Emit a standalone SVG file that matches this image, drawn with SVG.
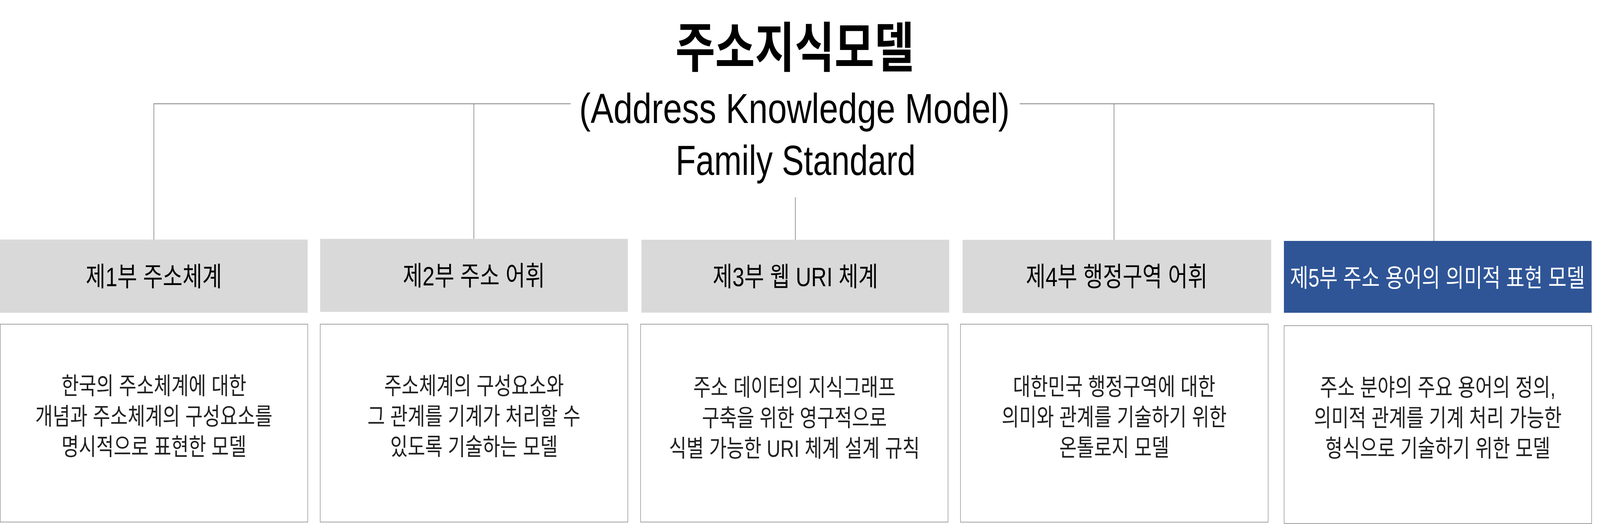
<svg xmlns="http://www.w3.org/2000/svg" width="5148" height="1342" viewBox="0 0 5148 1342" preserveAspectRatio="none" style="width:100vw;height:100vh;display:block">
  <style>
    text { font-family: "Liberation Sans", "Noto Sans CJK KR", sans-serif; text-anchor: middle; }
    .title { font-size: 138px; font-weight: 700; fill: #000; }
    .sub { font-size: 108px; fill: #000; }
    .part { fill: #d9d9d9; }
    .part-hl { fill: #2f5597; }
    .plabel { font-size: 69px; fill: #000; }
    .plabel-hl { font-size: 64px; fill: #fff; }
    .desc-box { fill: #fff; stroke: #7f7f7f; stroke-width: 1.5; }
    .desc { font-size: 61px; fill: #222; }
    .conn { stroke: #7f7f7f; stroke-width: 2; fill: none; }
  </style>
  <rect width="5148" height="1342" fill="#fff"/>

  <g id="connectors">
    <line class="conn" x1="495" y1="265.7" x2="1836" y2="265.7"/>
    <line class="conn" x1="3281" y1="265.7" x2="4613.5" y2="265.7"/>
    <line class="conn" x1="495" y1="264.7" x2="495" y2="614"/>
    <line class="conn" x1="1524.7" y1="265.7" x2="1524.7" y2="612"/>
    <line class="conn" x1="2559" y1="505" x2="2559" y2="614"/>
    <line class="conn" x1="3584.3" y1="265.7" x2="3584.3" y2="614"/>
    <line class="conn" x1="4613.5" y1="264.7" x2="4613.5" y2="617"/>
  </g>

  <g id="root">
    <text class="title" x="2557" y="171" textLength="768" lengthAdjust="spacingAndGlyphs">주소지식모델</text>
    <text class="sub" x="2556" y="315" textLength="1385" lengthAdjust="spacingAndGlyphs">(Address Knowledge Model)</text>
    <text class="sub" x="2560" y="448" textLength="772" lengthAdjust="spacingAndGlyphs">Family Standard</text>
  </g>

  <g id="part1">
    <rect class="part" x="0" y="613.5" width="990" height="187.5"/>
    <text class="plabel" x="495" y="733">제1부 주소체계</text>
  </g>
  <g id="part2">
    <rect class="part" x="1030" y="611.7" width="990" height="187"/>
    <text class="plabel" x="1525" y="731">제2부 주소 어휘</text>
  </g>
  <g id="part3">
    <rect class="part" x="2064" y="614" width="990" height="186.7"/>
    <text class="plabel" x="2559" y="733">제3부 웹 URI 체계</text>
  </g>
  <g id="part4">
    <rect class="part" x="3097" y="614.3" width="993" height="187.4"/>
    <text class="plabel" x="3593" y="733">제4부 행정구역 어휘</text>
  </g>
  <g id="part5">
    <rect class="part-hl" x="4131" y="617" width="990" height="184"/>
    <text class="plabel-hl" x="4625" y="734">제5부 주소 용어의 의미적 표현 모델</text>
  </g>

  <g id="desc1">
    <rect class="desc-box" x="0.75" y="830.3" width="989.5" height="506.7"/>
    <text class="desc" x="495" y="1010">한국의 주소체계에 대한</text>
    <text class="desc" x="495" y="1088">개념과 주소체계의 구성요소를</text>
    <text class="desc" x="495" y="1166">명시적으로 표현한 모델</text>
  </g>
  <g id="desc2">
    <rect class="desc-box" x="1030.3" y="830.3" width="989.7" height="506.7"/>
    <text class="desc" x="1525" y="1010">주소체계의 구성요소와</text>
    <text class="desc" x="1525" y="1088">그 관계를 기계가 처리할 수</text>
    <text class="desc" x="1525" y="1166">있도록 기술하는 모델</text>
  </g>
  <g id="desc3">
    <rect class="desc-box" x="2061" y="830.3" width="989.3" height="506.7"/>
    <text class="desc" x="2556" y="1014">주소 데이터의 지식그래프</text>
    <text class="desc" x="2556" y="1092">구축을 위한 영구적으로</text>
    <text class="desc" x="2556" y="1170">식별 가능한 URI 체계 설계 규칙</text>
  </g>
  <g id="desc4">
    <rect class="desc-box" x="3090.3" y="830.3" width="990" height="507"/>
    <text class="desc" x="3585" y="1012">대한민국 행정구역에 대한</text>
    <text class="desc" x="3585" y="1090">의미와 관계를 기술하기 위한</text>
    <text class="desc" x="3585" y="1168">온톨로지 모델</text>
  </g>
  <g id="desc5">
    <rect class="desc-box" x="4131.7" y="834" width="989.3" height="506.7"/>
    <text class="desc" x="4626" y="1014">주소 분야의 주요 용어의 정의,</text>
    <text class="desc" x="4626" y="1092">의미적 관계를 기계 처리 가능한</text>
    <text class="desc" x="4626" y="1170">형식으로 기술하기 위한 모델</text>
  </g>
</svg>
